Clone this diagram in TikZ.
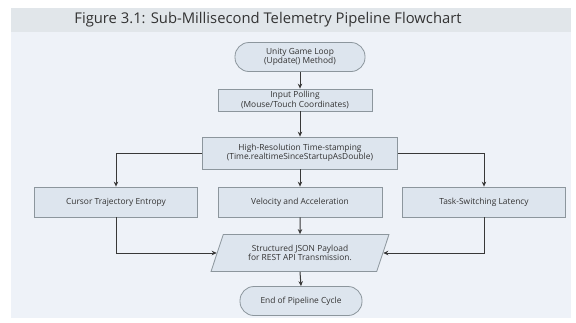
\documentclass[tikz,border=0pt]{standalone}
\usepackage{fontspec}
\setmainfont{Open Sans}
\usetikzlibrary{shapes.geometric,arrows.meta}
\definecolor{panel}{HTML}{EEF2F8}
\definecolor{band}{HTML}{E1E6EA}
\definecolor{boxfill}{HTML}{DDE5EE}
\definecolor{boxline}{HTML}{8C969D}
\definecolor{wire}{HTML}{383838}
\definecolor{ink}{HTML}{333333}
\tikzset{
  procbox/.style={draw=boxline, fill=boxfill, line width=0.8pt, rectangle,
    align=center, font=\fontsize{8.4}{9.6}\selectfont, text=ink, inner sep=1pt},
  termbox/.style={procbox, rounded corners=14pt},
  iobox/.style={procbox, trapezium, trapezium left angle=65, trapezium right angle=115},
  wireline/.style={draw=wire, line width=1pt, -{Stealth[length=5pt,width=4.5pt]}}
}
\begin{document}
\begin{tikzpicture}[x=1pt,y=-1pt]
  \useasboundingbox (0,0) rectangle (576,322);
  % frame and title band
  \fill[white] (0,0) rectangle (576,322);
  \fill[panel] (11,8) rectangle (571,318);
  \fill[band] (11,8) rectangle (571,32);
  \node[font=\fontsize{14.8}{17}\selectfont, text=ink] (title) at (268,20)
    {Figure 3.1: Sub-Millisecond Telemetry Pipeline Flowchart};

  % flow nodes
  \node[termbox, minimum width=130pt, minimum height=29pt] (loop) at (300,57)
    {Unity Game Loop\\(Update() Method)};
  \node[procbox, minimum width=154pt, minimum height=22pt] (poll) at (295,100)
    {Input Polling\\(Mouse/Touch Coordinates)};
  \node[procbox, minimum width=195pt, minimum height=32pt] (stamp) at (300,153)
    {High-Resolution Time-stamping\\(Time.realtimeSinceStartupAsDouble)};
  \node[procbox, minimum width=163pt, minimum height=30pt] (cursor) at (116,202)
    {Cursor Trajectory Entropy};
  \node[procbox, minimum width=164pt, minimum height=30pt] (vel) at (300,202)
    {Velocity and Acceleration};
  \node[procbox, minimum width=163pt, minimum height=30pt] (task) at (484,202)
    {Task-Switching Latency};
  \node[iobox, trapezium stretches=true, minimum width=178pt, minimum height=37pt] (payload) at (300,253)
    {Structured JSON Payload\\for REST API Transmission.};
  \node[termbox, minimum width=122pt, minimum height=29pt] (done) at (301,301)
    {End of Pipeline Cycle};

  % connectors
  \draw[wireline] (loop.south) -- (loop.south |- poll.north);
  \draw[wireline] (poll.south -| stamp.north) -- (stamp.north);
  \draw[wireline] (stamp.west) -| (cursor.north);
  \draw[wireline] (stamp.east) -| (task.north);
  \draw[wireline] (stamp.south) -- (vel.north);
  \draw[wireline] (vel.south) -- (payload.north);
  \draw[wireline] (cursor.south) |- (payload.west);
  \draw[wireline] (task.south) |- (payload.east);
  \draw[wireline] (payload.south) -- (done.north);
\end{tikzpicture}
\end{document}
